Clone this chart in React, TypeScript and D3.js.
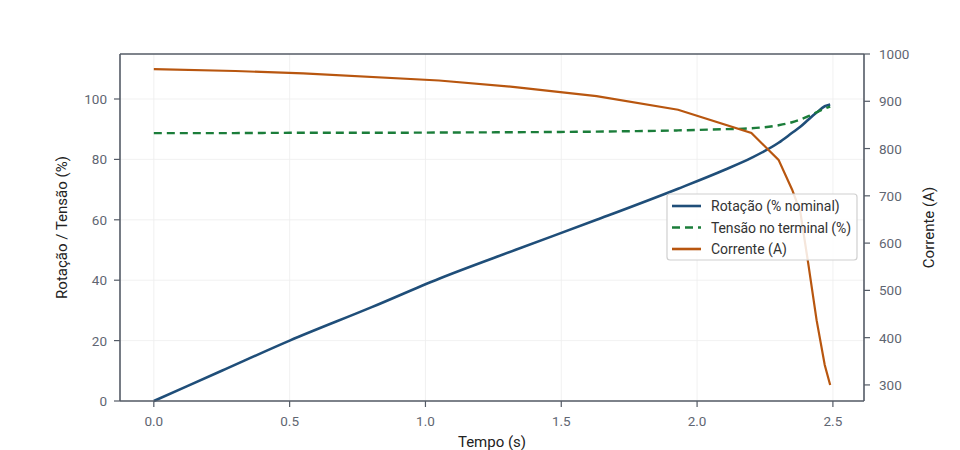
import React from "react";
import * as d3 from "d3";

const tempo = [0, 0.25, 0.5, 0.8, 1.05, 1.33, 1.63, 1.93, 2.1, 2.2, 2.3, 2.35, 2.38, 2.41, 2.44, 2.47, 2.49];
const rotacao = [0, 10, 20, 31, 40.5, 50, 60, 70.3, 76.5, 80.5, 85.5, 88.8, 90.8, 93.2, 95.5, 97.6, 98.2];
const tensao = [88.7, 88.7, 88.8, 88.8, 88.9, 89.0, 89.2, 89.6, 90.0, 90.3, 91.3, 92.3, 93.2, 94.3, 95.6, 96.8, 97.5];

const tempoCorrente = [0, 0.3, 0.55, 1.05, 1.33, 1.63, 1.93, 2.2, 2.3, 2.35, 2.38, 2.41, 2.44, 2.47, 2.49];
const corrente = [968, 964, 959, 944, 930, 911, 882, 833, 776, 713, 666, 554, 437, 342, 300];

const xTicks = [0, 0.5, 1.0, 1.5, 2.0, 2.5];
const yLeftTicks = [0, 20, 40, 60, 80, 100];
const yRightTicks = [300, 400, 500, 600, 700, 800, 900, 1000];

const legendItems = [
  { label: "Rotação (% nominal)", color: "#1f4e79", dash: "" },
  { label: "Tensão no terminal (%)", color: "#1b7d3a", dash: "8,5" },
  { label: "Corrente (A)", color: "#b8560f", dash: "" },
];

const W = 960;
const H = 450;
const margin = { top: 54, right: 96, bottom: 49, left: 120 };

const App: React.FC = () => {
  const x = d3.scaleLinear().domain([-0.1245, 2.6145]).range([margin.left, W - margin.right]);
  const yL = d3.scaleLinear().domain([0, 114.9]).range([H - margin.bottom, margin.top]);
  const yR = d3.scaleLinear().domain([266, 1000]).range([H - margin.bottom, margin.top]);

  const lineL = d3
    .line<[number, number]>()
    .x((d) => x(d[0]))
    .y((d) => yL(d[1]))
    .curve(d3.curveMonotoneX);
  const lineR = d3
    .line<[number, number]>()
    .x((d) => x(d[0]))
    .y((d) => yR(d[1]));

  const rotData = tempo.map((t, i) => [t, rotacao[i]] as [number, number]);
  const tenData = tempo.map((t, i) => [t, tensao[i]] as [number, number]);
  const corData = tempoCorrente.map((t, i) => [t, corrente[i]] as [number, number]);

  const axisColor = "#545b66";
  const tickColor = "#5f6672";
  const font = "Roboto, 'DejaVu Sans', sans-serif";
  const x0 = margin.left;
  const x1 = W - margin.right;
  const y0 = H - margin.bottom;
  const y1 = margin.top;

  const lg = { x: 667, y: 194, w: 190, h: 66 };

  return (
    <svg width={W} height={H} style={{ position: "absolute", left: 0, top: 0 }} fontFamily={font}>
      <rect width={W} height={H} fill="#fff" />
      {/* grid */}
      {xTicks.map((t) => (
        <line key={"gx" + t} x1={x(t)} x2={x(t)} y1={y1} y2={y0} stroke="#eeeeee" strokeWidth={0.8} />
      ))}
      {yLeftTicks.map((t) => (
        <line key={"gy" + t} x1={x0} x2={x1} y1={yL(t)} y2={yL(t)} stroke="#eeeeee" strokeWidth={0.8} />
      ))}

      {/* lines */}
      <path d={lineL(rotData) || ""} fill="none" stroke="#1f4e79" strokeWidth={2.6} />
      <path d={lineL(tenData) || ""} fill="none" stroke="#1b7d3a" strokeWidth={2.4} strokeDasharray="8,5" />
      <path d={lineR(corData) || ""} fill="none" stroke="#b8560f" strokeWidth={2.2} />

      {/* frame */}
      <line x1={x0} x2={x1} y1={y1} y2={y1} stroke={axisColor} strokeWidth={1.6} />
      <line x1={x0} x2={x1} y1={y0} y2={y0} stroke={axisColor} strokeWidth={1.6} />
      <line x1={x0} x2={x0} y1={y1} y2={y0} stroke={axisColor} strokeWidth={1.6} />
      <line x1={x1} x2={x1} y1={y1} y2={y0} stroke={axisColor} strokeWidth={1.6} />

      {/* x axis */}
      {xTicks.map((t) => (
        <g key={"xt" + t}>
          <line x1={x(t)} x2={x(t)} y1={y0} y2={y0 + 6} stroke={axisColor} strokeWidth={1.2} />
          <text x={x(t)} y={y0 + 25} textAnchor="middle" fontSize={13.5} fill={tickColor}>
            {t.toFixed(1)}
          </text>
        </g>
      ))}
      <text x={(x0 + x1) / 2} y={447} textAnchor="middle" fontSize={15} fill="#222">
        Tempo (s)
      </text>

      {/* left axis */}
      {yLeftTicks.map((t) => (
        <g key={"yl" + t}>
          <line x1={x0 - 6} x2={x0} y1={yL(t)} y2={yL(t)} stroke={axisColor} strokeWidth={1.2} />
          <text x={x0 - 13} y={yL(t) + 5} textAnchor="end" fontSize={13.5} fill={tickColor}>
            {t}
          </text>
        </g>
      ))}
      <text
        transform={`translate(67,${(y0 + y1) / 2}) rotate(-90)`}
        textAnchor="middle"
        fontSize={15}
        fill="#222"
      >
        Rotação / Tensão (%)
      </text>

      {/* right axis */}
      {yRightTicks.map((t) => (
        <g key={"yr" + t}>
          <line x1={x1} x2={x1 + 6} y1={yR(t)} y2={yR(t)} stroke={axisColor} strokeWidth={1.2} />
          <text x={x1 + 15} y={yR(t) + 5} textAnchor="start" fontSize={13.5} fill={tickColor}>
            {t}
          </text>
        </g>
      ))}
      <text
        transform={`translate(934,${(y0 + y1) / 2}) rotate(-90)`}
        textAnchor="middle"
        fontSize={15}
        fill="#222"
      >
        Corrente (A)
      </text>

      {/* legend */}
      <rect x={lg.x} y={lg.y} width={lg.w} height={lg.h} rx={3} fill="#fff" fillOpacity={0.85} stroke="#d0d0d0" strokeWidth={1.2} />
      {legendItems.map((d, i) => (
        <g key={d.label}>
          <line
            x1={lg.x + 5}
            x2={lg.x + 34}
            y1={lg.y + 12 + i * 21.5}
            y2={lg.y + 12 + i * 21.5}
            stroke={d.color}
            strokeWidth={2.6}
            strokeDasharray={d.dash}
          />
          <text x={lg.x + 44} y={lg.y + 17 + i * 21.5} fontSize={14} fill="#333" textLength={i === 1 ? 140 : undefined}>
            {d.label}
          </text>
        </g>
      ))}
    </svg>
  );
};

export default App;
